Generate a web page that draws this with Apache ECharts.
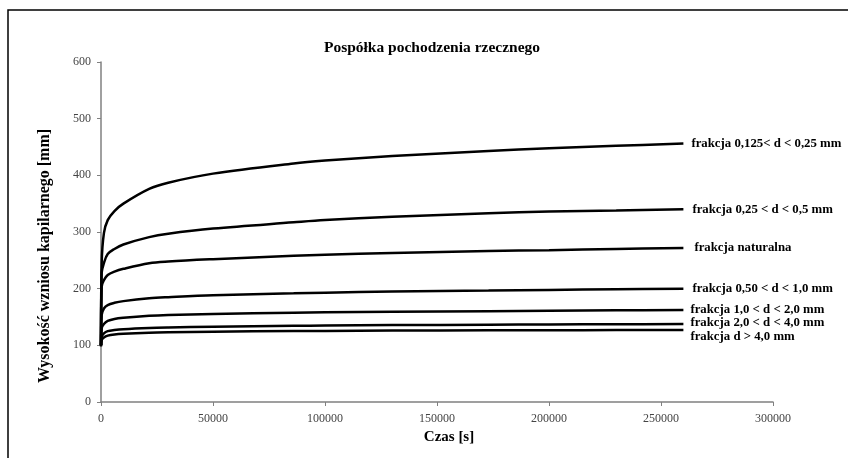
<!DOCTYPE html>
<html>
<head>
<meta charset="utf-8">
<script src="https://cdn.jsdelivr.net/npm/echarts@6/dist/echarts.min.js"></script>
<style>
html,body{margin:0;padding:0;background:#fff;}
#c{width:848px;height:458px;}
</style>
</head>
<body>
<div id="c"></div>
<script>
// Time points [s]
const time = [0, 300, 1300, 3000, 6000, 10000, 21500, 30000, 50000, 86000, 100000, 130000, 173000, 200000, 230000, 260000];
// Series values [mm]
const f0125_025 = [100, 245, 298, 321, 337, 350, 376, 387, 403, 421, 426, 434, 443, 448, 452, 456];
const f025_05 = [100, 228, 245, 261, 270, 278, 291, 297, 306, 317, 321, 327, 333, 336, 338, 340];
const fNaturalna = [100, 203.5, 215, 224, 230, 235, 245, 248, 252, 258, 260, 263, 266.5, 268, 270, 271.7];
const f050_10 = [100, 153.5, 165, 171, 175, 178, 183, 185, 188.5, 191.8, 193, 195, 196.7, 197.8, 199, 200];
const f10_20 = [100, 130, 137.6, 143, 146.5, 148.5, 152, 153.5, 155.5, 157.6, 158.3, 159.3, 160.3, 161, 161.7, 162.3];
const f20_40 = [100, 115, 121, 125, 127, 128.5, 130.6, 131.5, 133, 134.5, 135, 135.7, 136.4, 136.8, 137.2, 137.6];
const fPow40 = [98, 109.4, 114, 117.2, 119.3, 120.5, 122.3, 123, 124, 125.2, 125.5, 126, 126.5, 126.7, 126.9, 127];

const seriesNames = [
  'frakcja 0,125< d < 0,25 mm',
  'frakcja 0,25 < d < 0,5 mm',
  'frakcja naturalna',
  'frakcja 0,50 < d < 1,0 mm',
  'frakcja 1,0 < d < 2,0 mm',
  'frakcja 2,0 < d < 4,0 mm',
  'frakcja d > 4,0 mm'
];
const seriesValues = [f0125_025, f025_05, fNaturalna, f050_10, f10_20, f20_40, fPow40];
const labelOffsets = [[8,0],[9,0],[11,0],[9,0],[7,0],[7,-1],[7,7]];

const title = 'Pospółka pochodzenia rzecznego';
const yTitle = 'Wysokość wzniosu kapilarnego [mm]';
const xTitle = 'Czas [s]';

const serif = '"Liberation Serif", "Times New Roman", serif';

const chart = echarts.init(document.getElementById('c'), null, {renderer:'canvas'});
const series = seriesValues.map((vals, i) => ({
  type: 'line',
  name: seriesNames[i],
  data: time.map((t, k) => [t, vals[k]]),
  showSymbol: false,
  smooth: 0.35,
  lineStyle: {color: '#000', width: 2.5},
  itemStyle: {color: '#000'},
  animation: false,
  endLabel: {
    show: true,
    formatter: seriesNames[i],
    fontFamily: serif,
    fontWeight: 'bold',
    fontSize: 12.8,
    color: '#000',
    offset: labelOffsets[i],
    distance: 0
  }
}));

chart.setOption({
  backgroundColor: '#fff',
  animation: false,
  title: {
    text: title,
    left: 427,
    top: 35,
    textAlign: 'center',
    textStyle: {fontFamily: serif, fontWeight: 'bold', fontSize: 15.5, color: '#000'}
  },
  grid: {left: 101, right: 75, top: 62, bottom: 56, containLabel: false},
  xAxis: {
    type: 'value',
    min: 0, max: 300000, interval: 50000,
    splitLine: {show: false},
    axisLine: {lineStyle: {color: '#808080', width: 1.5}},
    axisTick: {show: true, length: 4, lineStyle: {color: '#808080'}},
    axisLabel: {fontFamily: serif, fontSize: 12, color: '#444', margin: 11, formatter: v => String(v)}
  },
  yAxis: {
    type: 'value',
    min: 0, max: 600, interval: 100,
    splitLine: {show: false},
    axisLine: {show: true, lineStyle: {color: '#808080', width: 1.5}},
    axisTick: {show: true, length: 4, lineStyle: {color: '#808080'}},
    axisLabel: {fontFamily: serif, fontSize: 12, color: '#444', margin: 10, formatter: v => String(v)}
  },
  graphic: [
    {type: 'polyline', shape: {points: [[8, 458], [8, 10], [848, 10]]}, style: {stroke: '#000', lineWidth: 1.5, fill: null}},
    {type: 'text', x: 449, y: 437, style: {text: xTitle, font: 'bold 15px ' + serif, fill: '#000', align: 'center', verticalAlign: 'middle'}},
    {type: 'text', rotation: Math.PI/2, x: 45, y: 256, style: {text: yTitle, font: 'bold 16px ' + serif, fill: '#000', align: 'center', verticalAlign: 'middle'}}
  ],
  series: series
});
</script>
</body>
</html>
